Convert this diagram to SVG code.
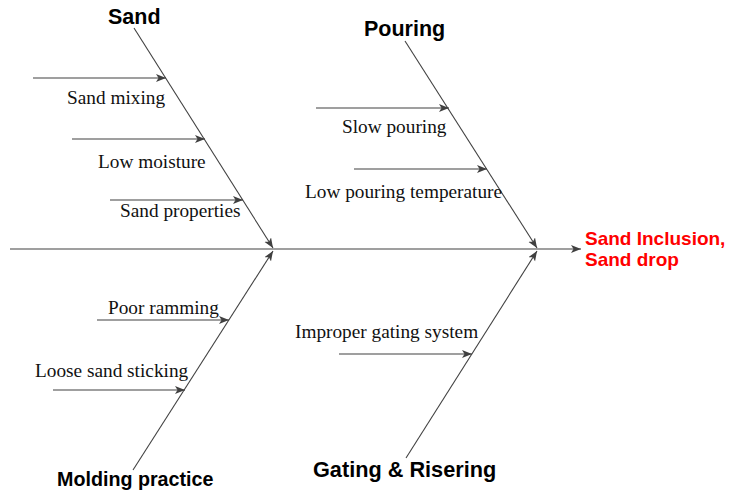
<svg xmlns="http://www.w3.org/2000/svg" width="741" height="492" viewBox="0 0 741 492">
<style>
.ln{stroke:#404040;stroke-width:1.1;fill:none;marker-end:url(#ah)}
.h{font-family:"Liberation Sans",Arial,sans-serif;font-weight:bold;fill:#000}
.c{font-family:"Liberation Serif","Times New Roman",serif;font-size:19.3px;fill:#111}
.r{font-family:"Liberation Sans",Arial,sans-serif;font-weight:bold;font-size:19px;fill:#ff0000}
</style>
<defs>
<marker id="ah" markerUnits="userSpaceOnUse" markerWidth="12" markerHeight="10" refX="10" refY="4" orient="auto">
<path d="M0,0 L10,4 L0,8 L2.5,4 Z" fill="#404040"/>
</marker>
</defs>
<g id="connectors">
<line class="ln" x1="10" y1="249" x2="581" y2="249"/>
<line class="ln" x1="134" y1="28" x2="273" y2="248"/>
<line class="ln" x1="405" y1="41" x2="537" y2="248"/>
<line class="ln" x1="133" y1="470" x2="273" y2="251"/>
<line class="ln" x1="406" y1="458" x2="537" y2="251"/>
<line class="ln" x1="33" y1="78" x2="166" y2="78"/>
<line class="ln" x1="72" y1="139" x2="205" y2="139"/>
<line class="ln" x1="110" y1="200" x2="243" y2="200"/>
<line class="ln" x1="316" y1="108" x2="449" y2="108"/>
<line class="ln" x1="354" y1="169" x2="487" y2="169"/>
<line class="ln" x1="97" y1="320" x2="229" y2="320"/>
<line class="ln" x1="53" y1="390" x2="185" y2="390"/>
<line class="ln" x1="339" y1="354" x2="472" y2="354"/>
</g>
<g id="sand"><text class="h" x="108" y="24" font-size="21.5">Sand</text></g>
<g id="pouring"><text class="h" x="364" y="36" font-size="21.5">Pouring</text></g>
<g id="molding"><text class="h" x="57" y="486" font-size="19.7">Molding practice</text></g>
<g id="gating"><text class="h" x="313" y="477" font-size="21.7">Gating &amp; Risering</text></g>
<g id="effect"><text class="r" x="585" y="245">Sand Inclusion,</text><text class="r" x="585" y="266">Sand drop</text></g>
<g id="c1"><text class="c" x="67" y="104">Sand mixing</text></g>
<g id="c2"><text class="c" x="98" y="168">Low moisture</text></g>
<g id="c3"><text class="c" x="120" y="217">Sand properties</text></g>
<g id="c4"><text class="c" x="342" y="133">Slow pouring</text></g>
<g id="c5"><text class="c" x="305" y="198">Low pouring temperature</text></g>
<g id="c6"><text class="c" x="108" y="314">Poor ramming</text></g>
<g id="c7"><text class="c" x="35" y="377">Loose sand sticking</text></g>
<g id="c8"><text class="c" x="295" y="338">Improper gating system</text></g>
</svg>
